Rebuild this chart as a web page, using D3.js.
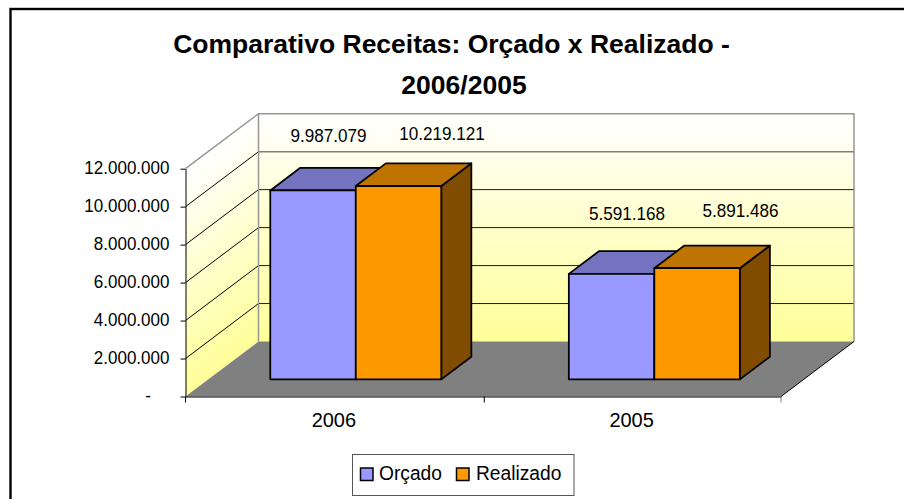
<!DOCTYPE html>
<html>
<head>
<meta charset="utf-8">
<script src="https://cdn.jsdelivr.net/npm/d3@7"></script>
<style>
  html, body { margin: 0; padding: 0; background: #fff; overflow: hidden; }
  text { font-family: "Liberation Sans", Arial, sans-serif; fill: #000; }
</style>
</head>
<body>
<div id="chart"></div>
<script>
const titleLines = ["Comparativo Receitas: Orçado x Realizado -", "2006/2005"];
const categories = ["2006", "2005"];
const seriesNames = ["Orçado", "Realizado"];
const orcado = [9987079, 5591168];
const realizado = [10219121, 5891486];
const tickValues = [0, 2000000, 4000000, 6000000, 8000000, 10000000, 12000000];
const tickLabels = ["-", "2.000.000", "4.000.000", "6.000.000", "8.000.000", "10.000.000", "12.000.000"];
const valueLabels = [["9.987.079", "5.591.168"], ["10.219.121", "5.891.486"]];

const width = 904, height = 499;

// the front corner of the plot and the depth of the 3d box
const x0 = 185.5, x1 = 781, yBottom = 396.5, yTop = 168.7;
const depthX = 73, depthY = -55;

const x = d3.scaleBand().domain(categories).range([x0, x1]);
const y = d3.scaleLinear().domain([0, 12000000]).range([yBottom, yTop]);

// how far a bar stands from the front of the floor, and how deep it is (0-1 of the box)
const barFront = 0.312, barDepth = 0.412;
const inner = d3.scaleBand().domain(seriesNames).range([0, 171]);
const barOffset = 62;

const colors = {
  "Orçado": {front: "#9999ff", top: "#7373bf", side: "#4d4d80"},
  "Realizado": {front: "#ff9900", top: "#bf7300", side: "#804d00"}
};

// the original text is a little narrower than the font at this height
function squeeze(sel, k) {
  sel.each(function() {
    d3.select(this)
      .attr("textLength", this.getComputedTextLength() * k)
      .attr("lengthAdjust", "spacingAndGlyphs");
  });
}

const svg = d3.select("#chart").append("svg")
  .attr("width", width)
  .attr("height", height)
  .style("display", "block");

const defs = svg.append("defs");
const wallGrad = defs.append("linearGradient")
  .attr("id", "wall").attr("x1", 0).attr("y1", 0).attr("x2", 0).attr("y2", 1);
wallGrad.append("stop").attr("offset", "0%").attr("stop-color", "#ffffff");
wallGrad.append("stop").attr("offset", "100%").attr("stop-color", "#ffff99");

// outer frame, it runs off the page on the right and at the bottom
svg.append("rect")
  .attr("x", 10.5).attr("y", 9)
  .attr("width", 1000).attr("height", 600)
  .attr("fill", "#fff").attr("stroke", "#000").attr("stroke-width", 2.4);

// title
svg.append("g").selectAll("text")
  .data(titleLines)
  .join("text")
    .attr("x", (d, i) => i == 0 ? 451.5 : 464)
    .attr("y", (d, i) => 53 + i * 41)
    .attr("text-anchor", "middle")
    .style("font-size", "26.5px")
    .style("font-weight", "bold")
    .text(d => d);

const line = d3.line();
const project = (px, py, f) => [px + depthX * f, py + depthY * f];

// left wall, skewed so the gradient follows the grid lines
svg.append("rect")
  .attr("transform", `translate(${x0},${yTop}) matrix(1,${depthY / depthX},0,1,0,0)`)
  .attr("width", depthX)
  .attr("height", yBottom - yTop)
  .attr("fill", "url(#wall)");

// back wall
svg.append("rect")
  .attr("x", x0 + depthX).attr("y", yTop + depthY)
  .attr("width", x1 - x0).attr("height", yBottom - yTop)
  .attr("fill", "url(#wall)");

// floor
svg.append("path")
  .attr("d", line([[x0, yBottom], [x1, yBottom], project(x1, yBottom, 1), project(x0, yBottom, 1)]) + "Z")
  .attr("fill", "#808080");

// grid lines, side and back
const gridTicks = tickValues.filter(d => d > 0 && d < 12000000);
svg.append("g").selectAll("path")
  .data(gridTicks)
  .join("path")
    .attr("d", d => line([[x0, y(d)], project(x0, y(d), 1)]))
    .attr("fill", "none")
    .attr("stroke", "#000")
    .attr("stroke-width", 1);
svg.append("g").selectAll("path")
  .data(gridTicks)
  .join("path")
    .attr("d", d => line([project(x0, y(d), 1), project(x1, y(d), 1)]))
    .attr("fill", "none")
    .attr("stroke", d => d == 10000000 ? "#808080" : "#1a1a1a")
    .attr("stroke-width", d => d == 10000000 ? 1.5 : 1);

// wall outline
svg.append("path")
  .attr("d", line([[x0, yTop], project(x0, yTop, 1), project(x1, yTop, 1), project(x1, yBottom, 1)]))
  .attr("fill", "none").attr("stroke", "#969696").attr("stroke-width", 1.5);
svg.append("path")
  .attr("d", line([project(x0, yTop, 1), project(x0, yBottom, 1)]))
  .attr("fill", "none").attr("stroke", "#969696").attr("stroke-width", 1.5);

// floor edge
svg.append("path")
  .attr("d", line([[x1, yBottom], project(x1, yBottom, 1)]))
  .attr("fill", "none").attr("stroke", "#000").attr("stroke-width", 1);

// axes
const yAxis = d3.axisLeft(y).tickValues(tickValues).tickFormat("").tickSize(5).tickSizeOuter(0);
svg.append("g").attr("transform", `translate(${x0},0)`).call(yAxis)
  .call(g => g.selectAll("path,line").attr("stroke", "#000"));
const xAxis = d3.axisBottom(x).tickValues([]).tickSizeOuter(0);
svg.append("g").attr("transform", `translate(0,${yBottom})`).call(xAxis)
  .call(g => g.select(".domain").attr("stroke", "#000"));
svg.append("g").selectAll("line")
  .data([x0, x0 + x.step() + 1, x1])
  .join("line")
    .attr("x1", d => d).attr("x2", d => d)
    .attr("y1", yBottom).attr("y2", yBottom + 6)
    .attr("stroke", (d, i) => i == 2 ? "#808080" : "#000");

svg.append("g").selectAll("text")
  .data(tickValues)
  .join("text")
    .attr("x", d => d == 0 ? x0 - 34.5 : x0 - 16)
    .attr("y", d => y(d) + 5)
    .attr("text-anchor", "end")
    .style("font-size", "18.5px")
    .text((d, i) => tickLabels[i])
    .call(squeeze, 0.92);

svg.append("g").selectAll("text")
  .data(categories)
  .join("text")
    .attr("x", d => x(d) + x.bandwidth() / 2 - 0.5)
    .attr("y", yBottom + 30)
    .attr("text-anchor", "middle")
    .style("font-size", "20px")
    .text(d => d);

// bars, the 2nd series is drawn over the first
const barData = [];
seriesNames.forEach((s, si) => {
  const vals = si == 0 ? orcado : realizado;
  categories.forEach((c, ci) => barData.push({s, c, si, ci, v: vals[ci], label: valueLabels[si][ci]}));
});
const barH = v => yBottom - y(v) - 0.7;
const bars = svg.append("g").selectAll("g")
  .data(barData)
  .join("g")
    .attr("stroke", "#000")
    .attr("stroke-width", 1.75)
    .attr("stroke-linejoin", "round");

const corners = d => {
  const xl = x(d.c) + barOffset + inner(d.s) + d.ci * 0.8;
  const xr = xl + inner.bandwidth();
  const [ax, ay] = project(xl, yBottom, barFront);
  const [bx, by] = project(xr, yBottom, barFront);
  return {ax, ay, bx, by, top: ay - barH(d.v)};
};
bars.append("path")
  .attr("d", d => { const k = corners(d);
    return line([[k.bx, k.ay], [k.bx, k.top], project(k.bx, k.top, barDepth), project(k.bx, k.ay, barDepth)]) + "Z"; })
  .attr("fill", d => colors[d.s].side);
bars.append("path")
  .attr("d", d => { const k = corners(d);
    return line([[k.ax, k.top], [k.bx, k.top], project(k.bx, k.top, barDepth), project(k.ax, k.top, barDepth)]) + "Z"; })
  .attr("fill", d => colors[d.s].top);
bars.append("rect")
  .attr("x", d => corners(d).ax)
  .attr("y", d => corners(d).top)
  .attr("width", inner.bandwidth())
  .attr("height", d => barH(d.v))
  .attr("fill", d => colors[d.s].front);

// value labels above the bars
svg.append("g").selectAll("text")
  .data(barData)
  .join("text")
    .attr("x", d => { const k = corners(d); return (k.ax + k.bx) / 2 + (d.si == 0 ? 15.5 : 43.5); })
    .attr("y", d => corners(d).top - (d.ci == 0 ? (d.si == 0 ? 48.5 : 46) : (d.si == 0 ? 53.5 : 51.5)))
    .attr("text-anchor", "middle")
    .style("font-size", "19px")
    .text(d => d.label)
    .call(squeeze, 0.9);

// legend
const legend = svg.append("g");
legend.append("rect")
  .attr("x", 352.5).attr("y", 454.5)
  .attr("width", 221.5).attr("height", 41)
  .attr("fill", "#fff").attr("stroke", "#555").attr("stroke-width", 1);
const legendX = d3.scaleOrdinal().domain(seriesNames).range([360, 456]);
legend.selectAll("rect.sw")
  .data(seriesNames)
  .join("rect")
    .attr("class", "sw")
    .attr("x", d => legendX(d) + 0.5).attr("y", 468)
    .attr("width", 12.5).attr("height", 12.5)
    .attr("fill", d => colors[d].front)
    .attr("stroke", "#000").attr("stroke-width", 1.5);
legend.selectAll("text")
  .data(seriesNames)
  .join("text")
    .attr("x", d => d == "Orçado" ? 379 : 476)
    .attr("y", 479.5)
    .style("font-size", "20px")
    .text(d => d)
    .call(squeeze, 0.96);
</script>
</body>
</html>
